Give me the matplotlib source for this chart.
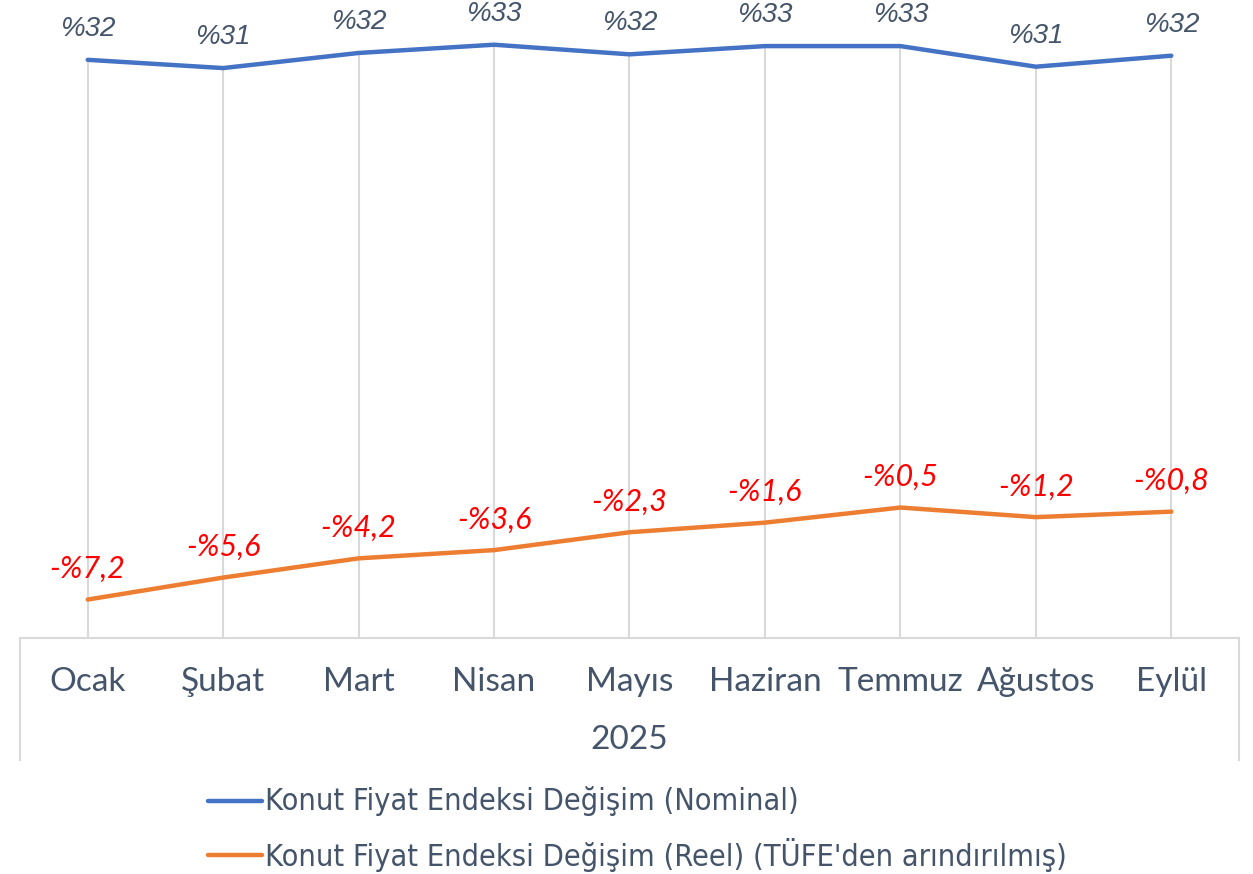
import matplotlib
matplotlib.use("Agg")
import matplotlib.pyplot as plt
from matplotlib.lines import Line2D

months = ["Ocak", "Şubat", "Mart", "Nisan", "Mayıs", "Haziran", "Temmuz", "Ağustos", "Eylül"]
year_label = "2025"
nominal = [32.1, 31.5, 32.6, 33.2, 32.5, 33.1, 33.1, 31.6, 32.4]
nominal_labels = ["%32", "%31", "%32", "%33", "%32", "%33", "%33", "%31", "%32"]
real = [-7.2, -5.6, -4.2, -3.6, -2.3, -1.6, -0.5, -1.2, -0.8]
real_labels = ["-%7,2", "-%5,6", "-%4,2", "-%3,6", "-%2,3", "-%1,6", "-%0,5", "-%1,2", "-%0,8"]
legend_names = ["Konut Fiyat Endeksi Değişim (Nominal)",
                "Konut Fiyat Endeksi Değişim (Reel) (TÜFE'den arındırılmış)"]

BLUE = "#4472C4"
ORANGE = "#ED7D31"
TXT = "#44546A"
GRID = "#D9D9D9"

W, H = 1253, 874
fig = plt.figure(figsize=(W / 100, H / 100), dpi=100)
# plot area: x from 20 to 1239 px, y bottom at 638 px, top at 20 px
ax = fig.add_axes([20 / W, (H - 638) / H, (1239 - 20) / W, (638 - 20) / H])
ymin, ymax = -10, 35
ax.set_ylim(ymin, ymax)
ax.set_xlim(-0.5, len(months) - 0.5)
x = list(range(len(months)))

# drop lines
ax.vlines(x, ymin, nominal, color=GRID, lw=1.5, zorder=1)

ax.plot(x, nominal, color=BLUE, lw=3.2, solid_capstyle="round", solid_joinstyle="round", zorder=3)
ax.plot(x, real, color=ORANGE, lw=3.2, solid_capstyle="round", solid_joinstyle="round", zorder=3)

for xi, v, lab in zip(x, nominal, nominal_labels):
    ax.annotate(lab, (xi, v), xytext=(0, 13), textcoords="offset points",
                ha="center", va="bottom", fontsize=20, style="italic",
                color=TXT, family="Liberation Sans", annotation_clip=False)
for xi, v, lab in zip(x, real, real_labels):
    ax.annotate(lab, (xi, v), xytext=(0, 12), textcoords="offset points",
                ha="center", va="bottom", fontsize=22, style="italic",
                color="#FF0000", family="Lato", annotation_clip=False)

for s in ["top", "left", "right"]:
    ax.spines[s].set_visible(False)
ax.spines["bottom"].set_color(GRID)
ax.spines["bottom"].set_linewidth(1.5)
ax.set_yticks([])
ax.set_xticks(x)
ax.set_xticklabels(months, fontsize=24, color=TXT, family="Lato")
ax.tick_params(axis="x", length=0, pad=21)

# multi-level category box sides
drop = (760 - 638) / (638 - 20)
for xa in (0, 1):
    ax.add_line(Line2D([xa, xa], [0, -drop], transform=ax.transAxes,
                       color=GRID, lw=1.5, clip_on=False))
fig.text(629 / W, 1 - 740 / H, year_label, ha="center", va="center",
         fontsize=24, color=TXT, family="Lato")

# legend
for i, (name, col) in enumerate(zip(legend_names, [BLUE, ORANGE])):
    yy = 1 - (801 + 54 * i) / H
    fig.add_artist(Line2D([208 / W, 262 / W], [yy, yy], color=col, lw=3.2,
                          solid_capstyle="round"))
    fig.text(265 / W, yy, name, ha="left", va="center", fontsize=22,
             color=TXT, family="DejaVu Sans", stretch="condensed")

fig.savefig("out.png", dpi=100)
